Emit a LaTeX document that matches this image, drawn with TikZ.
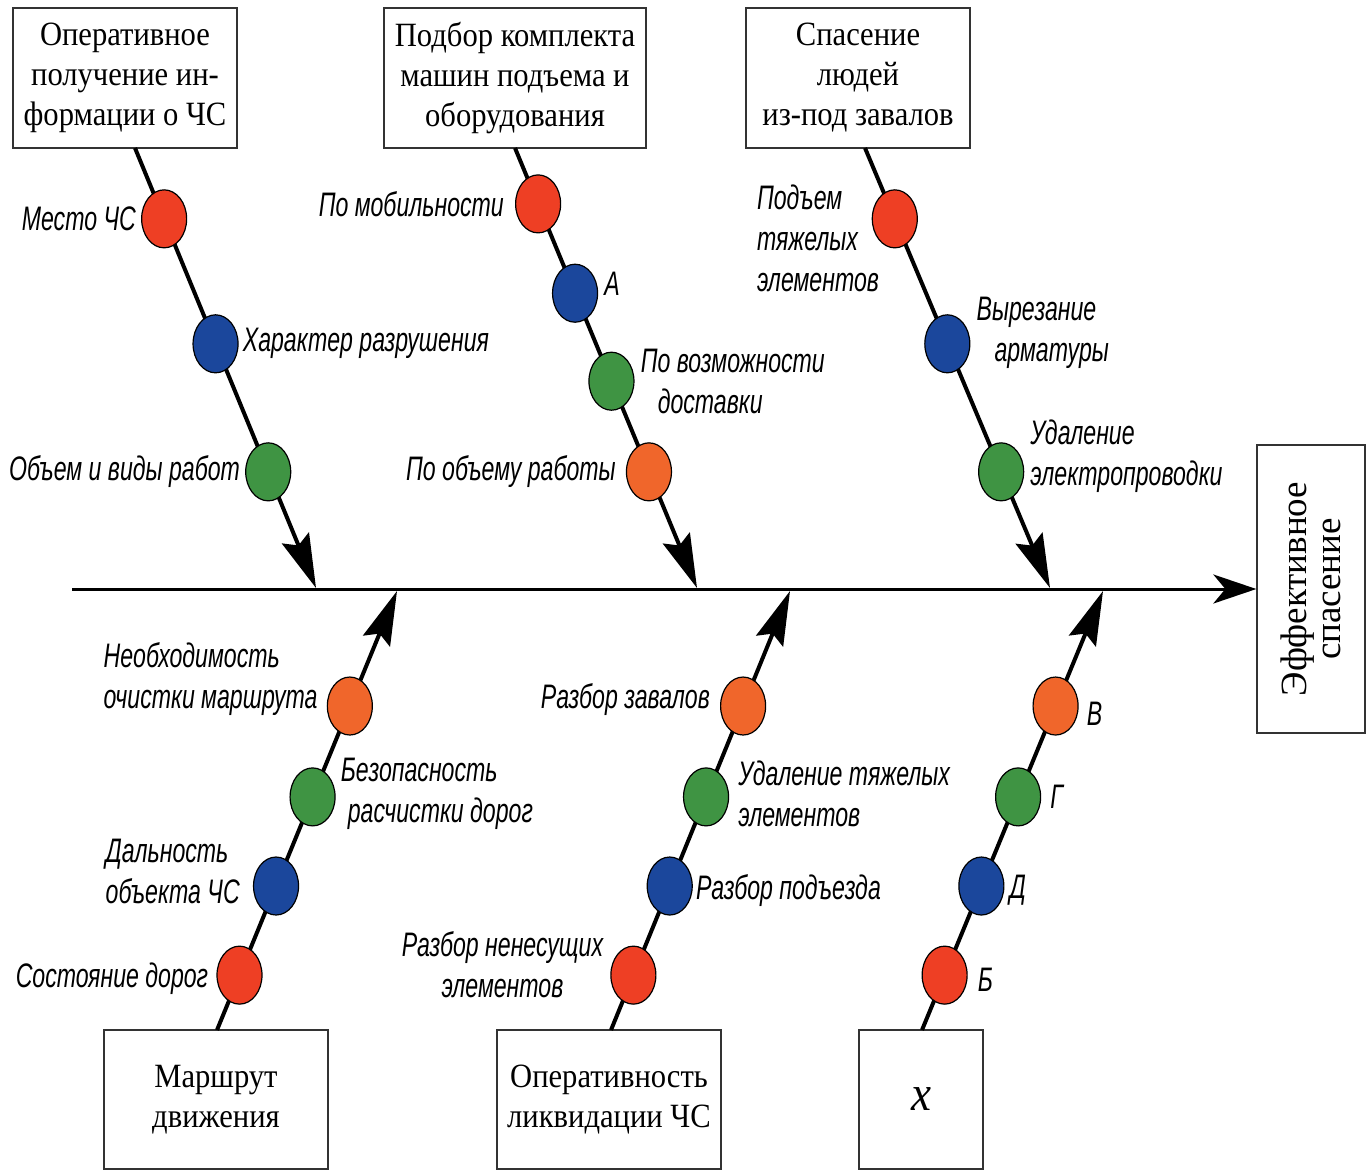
\documentclass[tikz,border=0pt]{standalone}
\usepackage{fontspec}
\setmainfont{Liberation Serif}
\newfontfamily\boxfont{Liberation Serif}[FakeStretch=0.9]
\newfontfamily\gostfont{Liberation Sans}[FakeStretch=0.68]
\usepackage{xcolor}
\usepackage{tikz}
\usetikzlibrary{arrows.meta,positioning,shapes.geometric}
\definecolor{dotred}{HTML}{EE3F24}
\definecolor{dotblue}{HTML}{1B479C}
\definecolor{dotgreen}{HTML}{3F9443}
\definecolor{dotorange}{HTML}{F0662B}
\tikzset{
    box/.style={draw=black!80, line width=1.3pt, align=center, inner sep=0pt, font=\boxfont\fontsize{34}{40}\selectfont},
    cause/.style={ellipse, draw=black, line width=1.2pt, fill=#1, minimum width=45pt, minimum height=58pt, inner sep=0pt},
    lbl/.style={font=\gostfont\itshape\fontsize{34}{41}\selectfont, inner sep=1pt},
    bone/.style={line width=4pt, -{Stealth[length=54pt,width=29pt,inset=8pt]}},
    spine/.style={line width=3pt, -{Stealth[length=43pt,width=29pt,inset=12pt]}}}

\begin{document}
\begin{tikzpicture}[x=1pt,y=-1pt]
\useasboundingbox (0,0) rectangle (1367,1171);
% boxes
\node[box, minimum width=224pt, minimum height=140pt] (t1) at (125,78) {Оперативное\\получение ин-\\формации о ЧС};
\node[box, minimum width=262pt, minimum height=140pt] (t2) at (515,78) {Подбор комплекта\\машин подъема и\\оборудования};
\node[box, minimum width=224pt, minimum height=140pt] (t3) at (858,78) {Спасение\\людей\\из-под завалов};
\node[box, minimum width=224pt, minimum height=139pt] (b1) at (216,1099.5) {Маршрут\\движения};
\node[box, minimum width=224pt, minimum height=139pt] (b2) at (609,1099.5) {Оперативность\\ликвидации ЧС};
\node[box, minimum width=124pt, minimum height=139pt] (b3) at (921,1099.5) {\fontsize{50}{50}\selectfont\itshape x};
\node[box, rotate=90, minimum width=288pt, minimum height=108pt, font=\fontsize{37}{34}\selectfont] (goal) at (1311,589) {Эффективное\\спасение};

\coordinate (tail) at (72,589);
\coordinate (s1) at (135,148);
\coordinate (e1) at (316,588);
\coordinate (s2) at (515,148);
\coordinate (e2) at (697,588);
\coordinate (s3) at (865,148);
\coordinate (e3) at (1050,588);
\coordinate (s4) at (217,1030);
\coordinate (e4) at (397,591);
\coordinate (s5) at (611,1030);
\coordinate (e5) at (790,591);
\coordinate (s6) at (922,1030);
\coordinate (e6) at (1103,591);

\draw[spine] (tail) -- (goal.north);

% top bones
\draw[bone] (s1) -- (e1)
    node[cause=dotred, pos=.161] (c11) {}
    node[cause=dotblue, pos=.445] (c12) {}
    node[cause=dotgreen, pos=.736] (c13) {};
\draw[bone] (s2) -- (e2)
    node[cause=dotred, pos=.127] (c21) {}
    node[cause=dotblue, pos=.33] (c22) {}
    node[cause=dotgreen, pos=.53] (c23) {}
    node[cause=dotorange, pos=.736] (c24) {};
\draw[bone] (s3) -- (e3)
    node[cause=dotred, pos=.161] (c31) {}
    node[cause=dotblue, pos=.445] (c32) {}
    node[cause=dotgreen, pos=.736] (c33) {};

% bottom bones
\draw[bone] (s4) -- (e4)
    node[cause=dotred, pos=.125] (c41) {}
    node[cause=dotblue, pos=.328] (c42) {}
    node[cause=dotgreen, pos=.531] (c43) {}
    node[cause=dotorange, pos=.738] (c44) {};
\draw[bone] (s5) -- (e5)
    node[cause=dotred, pos=.125] (c51) {}
    node[cause=dotblue, pos=.328] (c52) {}
    node[cause=dotgreen, pos=.531] (c53) {}
    node[cause=dotorange, pos=.738] (c54) {};
\draw[bone] (s6) -- (e6)
    node[cause=dotred, pos=.125] (c61) {}
    node[cause=dotblue, pos=.328] (c62) {}
    node[cause=dotgreen, pos=.531] (c63) {}
    node[cause=dotorange, pos=.738] (c64) {};

% labels
\node[lbl, left=4pt of c11] (l11) {Место ЧС};
\node[lbl, right=3pt of c12] (l12) {Характер разрушения};
\node[lbl, left=4pt of c13] (l13) {Объем и виды работ};
\node[lbl, left=10pt of c21] (l21) {По мобильности};
\node[lbl, right=5pt of c22, yshift=9pt] (l22) {А};
\node[lbl, right=5pt of c23, align=left] (l23) {По возможности\\\hspace*{17pt}доставки};
\node[lbl, left=9pt of c24] (l24) {По объему работы};
\node[lbl, align=left] (l31) at (818,238) {Подъем\\тяжелых\\элементов};
\node[lbl, right=5pt of c32, align=left, yshift=11pt] (l32) {Вырезание\\\hspace*{18pt}арматуры};
\node[lbl, right=5pt of c33, align=left, yshift=16pt] (l33) {Удаление\\электропроводки};
\node[lbl, left=7pt of c41, yshift=-4pt] (l41) {Состояние дорог};
\node[lbl, left=12pt of c42, align=left, yshift=15pt] (l42) {Дальность\\объекта ЧС};
\node[lbl, right=4pt of c43, align=left, yshift=3pt] (l43) {Безопасность\\\hspace*{7pt}расчистки дорог};
\node[lbl, left=8pt of c44, align=left, yshift=27pt] (l44) {Необходимость\\очистки маршрута};
\node[lbl, left=6pt of c51, align=center, yshift=10pt] (l51) {Разбор ненесущих\\элементов};
\node[lbl, right=2pt of c52, yshift=-5pt] (l52) {Разбор подъезда};
\node[lbl, right=8pt of c53, align=left, yshift=3pt] (l53) {Удаление тяжелых\\элементов};
\node[lbl, left=9pt of c54, yshift=6pt] (l54) {Разбор завалов};
\node[lbl, right=9pt of c61, yshift=-5pt] (l61) {Б};
\node[lbl, right=4pt of c62, yshift=-4pt] (l62) {Д};
\node[lbl, right=8pt of c63] (l63) {Г};
\node[lbl, right=7pt of c64, yshift=-8pt] (l64) {В};
\end{tikzpicture}
\end{document}
